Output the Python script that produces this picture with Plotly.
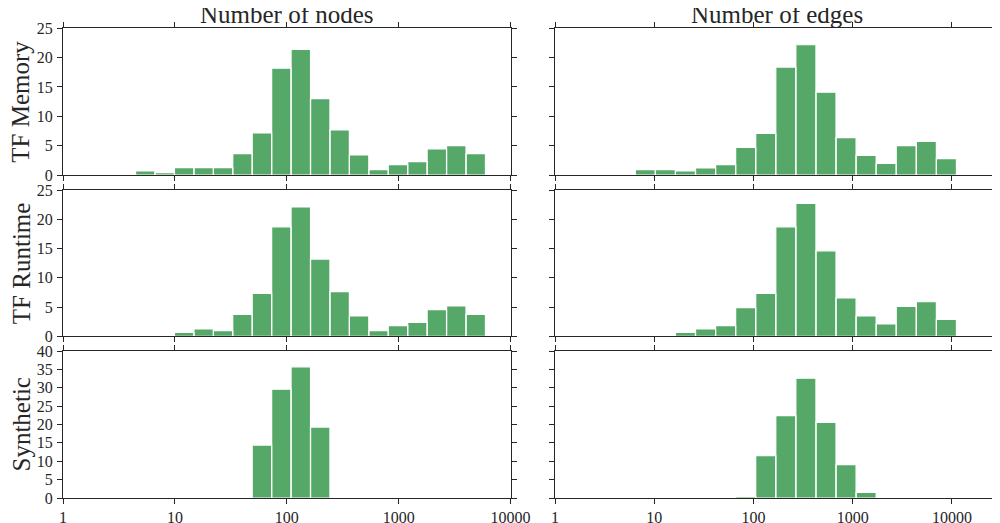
import plotly.graph_objects as go

# ---- data ----
node_bin_edges = [2.0, 2.98, 4.45, 6.64, 9.91, 14.8, 22.1, 32.9, 49.1, 73.3, 109.3,
                  163.1, 243.2, 362.9, 541.4, 807.7, 1205, 1798, 2682, 4002, 5970]
edge_bin_edges = [1.0, 1.593, 2.539, 4.045, 6.442, 10.26, 16.35, 26.05, 41.50, 66.12, 105.3,
                  167.8, 267.3, 425.9, 678.4, 1081, 1722, 2743, 4370, 6963, 11092]

mem_nodes = [0.17, 0.17, 0.68, 0.4, 1.25, 1.25, 1.25, 3.64, 7.16, 18.2, 21.4, 13.0, 7.67,
             3.41, 0.91, 1.76, 2.27, 4.43, 5.0, 3.64]
mem_edges = [0.17, 0, 0, 0.17, 0.91, 0.91, 0.68, 1.19, 1.76, 4.72, 7.1, 18.4, 22.2, 14.1,
             6.36, 3.35, 1.99, 5.0, 5.74, 2.78]
run_nodes = [0, 0, 0, 0, 0.68, 1.25, 0.97, 3.76, 7.35, 18.7, 22.1, 13.2, 7.63, 3.47, 0.97,
             1.82, 2.39, 4.56, 5.18, 3.76]
run_edges = [0, 0, 0, 0, 0, 0, 0.68, 1.25, 1.82, 4.9, 7.35, 18.7, 22.7, 14.6, 6.55, 3.47,
             2.1, 5.1, 5.9, 2.9]
syn_nodes = [0, 0, 0, 0, 0, 0, 0, 0, 14.4, 29.6, 35.7, 19.3, 0, 0, 0, 0, 0, 0, 0, 0]
syn_edges = [0, 0, 0, 0, 0, 0, 0, 0, 0, 0.45, 11.5, 22.4, 32.6, 20.6, 9.07, 1.54, 0, 0, 0, 0]

row_labels = ["TF Memory", "TF Runtime", "Synthetic"]
col_titles = ["Number of nodes", "Number of edges"]
x_tickvals = [1, 10, 100, 1000, 10000]
x_ticktext = ["1", "10", "100", "1000", "10000"]
y_ranges = [[0, 25], [0, 25], [0, 40]]

panels = [
    (mem_nodes, node_bin_edges), (mem_edges, edge_bin_edges),
    (run_nodes, node_bin_edges), (run_edges, edge_bin_edges),
    (syn_nodes, node_bin_edges), (syn_edges, edge_bin_edges),
]

# ---- layout geometry (page has an 8px body margin) ----
OFF = 8
W, H = 1000 - OFF, 523 - OFF
x_px = [(63.0, 510.5), (555.0, 1000.0)]
x_domains = [[(a - OFF) / W, min(1.0, (b - OFF) / W)] for a, b in x_px]
x_ranges = [[0, 4], [0, 4.484]]
y_px = [(28.3, 175.0), (190.0, 336.3), (351.0, 498.0)]
y_domains = [[1 - (b - OFF) / H, 1 - (t - OFF) / H] for t, b in y_px]

GREEN = "#55A868"
AXC = "#262626"
FONT = "Liberation Serif"

fig = go.Figure()


def rects(edges, heights):
    xs, ys = [], []
    for i, h in enumerate(heights):
        if h <= 0:
            continue
        l, r = edges[i], edges[i + 1]
        xs += [l, l, r, r, l, None]
        ys += [0, h, h, 0, 0, None]
    return xs, ys


layout = dict(
    width=W, height=H,
    margin=dict(l=0, r=0, t=0, b=0),
    paper_bgcolor="white", plot_bgcolor="white",
    showlegend=False,
    font=dict(family=FONT, size=16, color=AXC),
)

for k, (vals, edges) in enumerate(panels):
    r, c = divmod(k, 2)
    idx = k + 1
    xs, ys = rects(edges, vals)
    fig.add_trace(go.Scatter(
        x=xs, y=ys, mode="lines", fill="toself", fillcolor=GREEN,
        line=dict(color="white", width=1.2), hoverinfo="skip",
        xaxis=f"x{idx}", yaxis=f"y{idx}",
    ))
    xname = "xaxis" if idx == 1 else f"xaxis{idx}"
    yname = "yaxis" if idx == 1 else f"yaxis{idx}"
    layout[xname] = dict(
        type="log", domain=x_domains[c], range=x_ranges[c], anchor=f"y{idx}",
        tickvals=x_tickvals, ticktext=x_ticktext,
        showticklabels=(r == 2), ticks="outside", ticklen=5, tickwidth=1,
        tickcolor=AXC, showline=True, linecolor=AXC, linewidth=1,
        mirror="allticks", showgrid=False, zeroline=False, automargin=False,
        tickfont=dict(family=FONT, size=16, color=AXC),
    )
    layout[yname] = dict(
        domain=y_domains[r], range=y_ranges[r], anchor=f"x{idx}", dtick=5, tick0=0,
        showticklabels=(c == 0), ticks="outside", ticklen=5, tickwidth=1,
        tickcolor=AXC, showline=True, linecolor=AXC, linewidth=1,
        mirror="allticks", showgrid=False, zeroline=False, automargin=False,
        tickfont=dict(family=FONT, size=16, color=AXC), ticklabelstandoff=1,
    )

annotations = []
for c, t in enumerate(col_titles):
    annotations.append(dict(
        text=t, xref="paper", yref="paper", x=sum(x_domains[c]) / 2, y=1 - (15 - OFF) / H,
        xanchor="center", yanchor="middle", showarrow=False,
        font=dict(family=FONT, size=25, color=AXC),
    ))
for r, t in enumerate(row_labels):
    annotations.append(dict(
        text=t, xref="paper", yref="paper", x=(21 - OFF) / W, y=sum(y_domains[r]) / 2,
        xanchor="center", yanchor="middle", showarrow=False, textangle=-90,
        font=dict(family=FONT, size=25, color=AXC),
    ))
layout["annotations"] = annotations

fig.update_layout(**layout)
fig.write_html("out.html")
